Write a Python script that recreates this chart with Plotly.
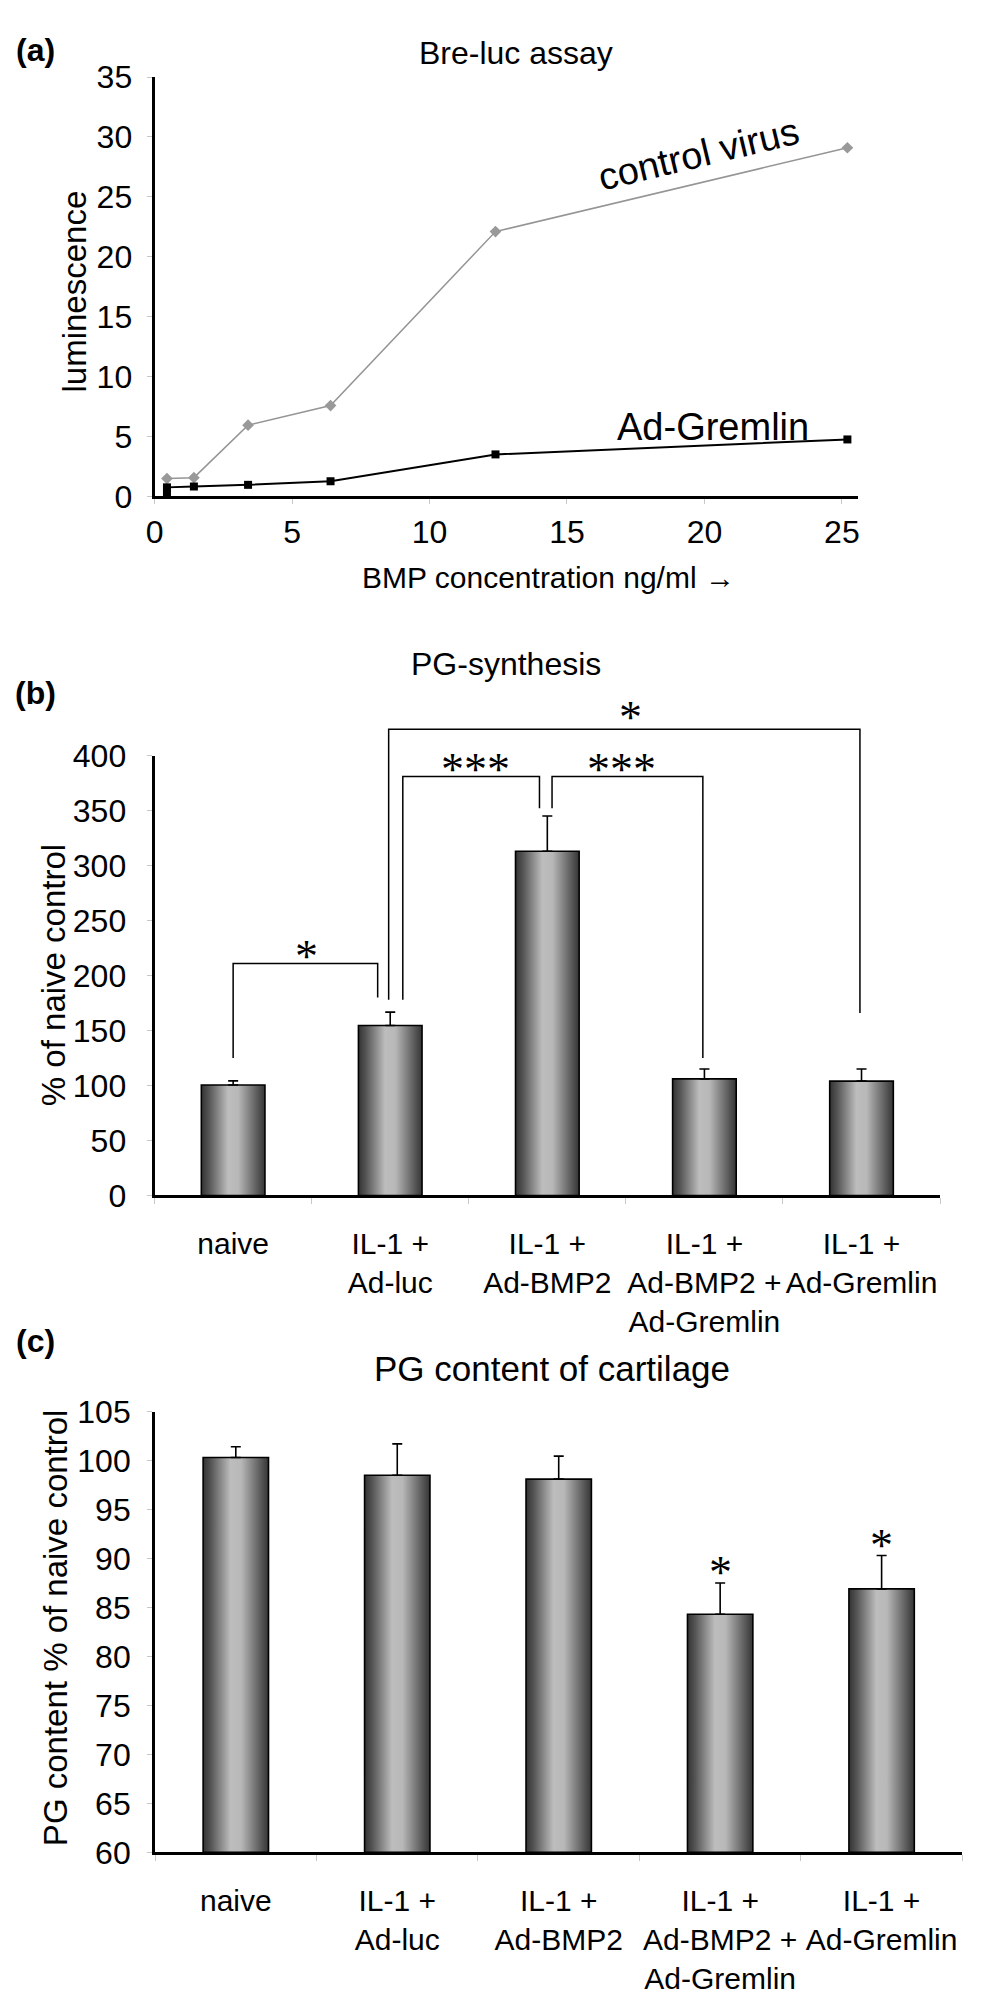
import plotly.graph_objects as go

W, H = 1004, 2008          # screen size
OFF = 8                    # default page (body) margin of the html page
FW, FH = W - 2 * OFF, H - 2 * OFF
FONT = "Liberation Sans, Arial, Helvetica, sans-serif"
STAR_FONT = "Liberation Serif, Times New Roman, serif"

# ---------------- data ----------------
# (a) Bre-luc assay
bmp_conc = [0.45, 1.43, 3.4, 6.4, 12.4, 25.2]
lum_control = [1.48, 1.56, 5.94, 7.58, 22.1, 29.1]
bmp_conc_grem = [0.45, 0.45, 1.43, 3.4, 6.4, 12.4, 25.2]
lum_gremlin = [0.2, 0.75, 0.82, 0.96, 1.26, 3.5, 4.75]
a_xticks = [0, 5, 10, 15, 20, 25]
a_yticks = [0, 5, 10, 15, 20, 25, 30, 35]

# (b)/(c) categories
categories = ["naive", "IL-1 +<br>Ad-luc", "IL-1 +<br>Ad-BMP2",
              "IL-1 +<br>Ad-BMP2 +<br>Ad-Gremlin", "IL-1 +<br>Ad-Gremlin"]
pg_synthesis = [100.5, 154.5, 313, 106, 104]
pg_synthesis_err = [3.7, 12.2, 32, 9, 11]
b_yticks = [0, 50, 100, 150, 200, 250, 300, 350, 400]
# significance brackets: x0, x1, top, left-leg bottom, right-leg bottom, label, label x, label y
b_brackets = [
    (0.0, 0.92, 211, 125, 180, "*", 0.47, 224),
    (1.08, 1.95, 381, 178, 352, "***", 1.54, 394),
    (2.03, 2.99, 381, 352, 125, "***", 2.47, 394),
    (0.99, 3.99, 424, 178, 166, "*", 2.53, 441),
]

pg_content = [100.3, 98.5, 98.1, 84.3, 86.9]
pg_content_err = [1.1, 3.2, 2.35, 3.2, 3.4]
c_yticks = [60, 65, 70, 75, 80, 85, 90, 95, 100, 105]
c_significant = [False, False, False, True, True]

# ---------------- layout geometry (screen pixels) ----------------
def dom_x(l, r):
    return [(l - OFF) / FW, (r - OFF) / FW]

def dom_y(bottom_px, top_px):
    return [1 - (bottom_px - OFF) / FH, 1 - (top_px - OFF) / FH]

A_X = dom_x(147, 858); A_Y = dom_y(487, 60); A_XR = [0, 25.6]; A_YR = [0, 35]
B_X = dom_x(147, 940.5); B_Y = dom_y(1199, 751); B_XR = [-0.5, 4.5]; B_YR = [0, 400]
C_X = dom_x(147.5, 963); C_Y = dom_y(1868, 1419); C_XR = [-0.5, 4.5]; C_YR = [60, 105]

def to_paper(v, dom, rng):
    return dom[0] + (v - rng[0]) / (rng[1] - rng[0]) * (dom[1] - dom[0])

fig = go.Figure()

# ---------------- (a) ----------------
fig.add_trace(go.Scatter(x=bmp_conc, y=lum_control, mode="lines+markers",
                         line=dict(color="#959595", width=1.5),
                         marker=dict(symbol="diamond", size=9, color="#999999"),
                         xaxis="x", yaxis="y", cliponaxis=False))
fig.add_trace(go.Scatter(x=bmp_conc_grem, y=lum_gremlin, mode="lines+markers",
                         line=dict(color="black", width=2),
                         marker=dict(symbol="square", size=8, color="black"),
                         xaxis="x", yaxis="y", cliponaxis=False))

# ---------------- bars with gradient ----------------
GRAD = [[0, "#333333"], [0.12, "#555555"], [0.42, "#bdbdbd"], [0.58, "#b8b8b8"],
        [0.88, "#5a5a5a"], [1, "#353535"]]
BAR_W = 0.405

def add_bars(values, errs, base, xa, ya):
    for i, v in enumerate(values):
        x0, x1 = i - BAR_W / 2, i + BAR_W / 2
        fig.add_trace(go.Scatter(x=[x0, x0, x1, x1, x0], y=[base, v, v, base, base],
                                 mode="lines", fill="toself",
                                 fillgradient=dict(type="horizontal", colorscale=GRAD),
                                 line=dict(color="black", width=1.6),
                                 xaxis=xa, yaxis=ya, hoverinfo="skip"))
    fig.add_trace(go.Scatter(x=list(range(len(values))), y=values, mode="markers",
                             marker=dict(size=1, opacity=0),
                             error_y=dict(type="data", symmetric=False, array=errs,
                                          arrayminus=[0] * len(errs), color="black",
                                          thickness=1.6, width=5),
                             xaxis=xa, yaxis=ya, hoverinfo="skip"))

add_bars(pg_synthesis, pg_synthesis_err, 0, "x2", "y2")
add_bars(pg_content, pg_content_err, C_YR[0], "x3", "y3")

shapes = []
annotations = []
STAR_SIZE = 46

def star(text, xp, yp, yshift):
    annotations.append(dict(x=xp, y=yp, xref="paper", yref="paper", text=text,
                            showarrow=False,
                            font=dict(family=STAR_FONT, size=STAR_SIZE, color="black"),
                            xanchor="center", yanchor="middle", yshift=yshift))

# (b) brackets and their stars
for x0, x1, top, lb, rb, lab, lx, ly in b_brackets:
    px0 = to_paper(x0, B_X, B_XR); px1 = to_paper(x1, B_X, B_XR)
    ptop = to_paper(top, B_Y, B_YR)
    path = "M {a},{b} L {a},{c} L {d},{c} L {d},{e}".format(
        a=px0, b=to_paper(lb, B_Y, B_YR), c=ptop, d=px1, e=to_paper(rb, B_Y, B_YR))
    shapes.append(dict(type="path", path=path, xref="paper", yref="paper",
                       line=dict(color="black", width=1.5)))
    star(lab, to_paper(lx, B_X, B_XR), to_paper(ly, B_Y, B_YR), -7)

# (c) stars above the error bars
for i, sig in enumerate(c_significant):
    if sig:
        star("*", to_paper(i, C_X, C_XR),
             to_paper(pg_content[i] + pg_content_err[i], C_Y, C_YR), 10)

# (a) series labels
annotations.append(dict(x=19.8, y=28.6, xref="x", yref="y", text="control virus",
                        textangle=-13.5, showarrow=False,
                        font=dict(family=FONT, size=38, color="black")))
annotations.append(dict(x=20.3, y=5.8, xref="x", yref="y", text="Ad-Gremlin",
                        showarrow=False, font=dict(family=FONT, size=38, color="black")))

def paper_text(text, xc, yc, size, angle=0, bold=False):
    annotations.append(dict(x=(xc - OFF) / FW, y=1 - (yc - OFF) / FH,
                            xref="paper", yref="paper",
                            text=("<b>%s</b>" % text) if bold else text,
                            textangle=angle, showarrow=False,
                            xanchor="center", yanchor="middle",
                            font=dict(family=FONT, size=size, color="black")))

# panel letters, titles, axis titles
paper_text("(a)", 27, 32, 32, bold=True)
paper_text("(b)", 27, 687, 32, bold=True)
paper_text("(c)", 27, 1347, 32, bold=True)
paper_text("Bre-luc assay", 512, 36, 32)
paper_text("PG-synthesis", 502, 658, 32)
paper_text("PG content of cartilage", 548, 1375, 35)
paper_text("luminescence", 66, 278, 33, angle=-90)
paper_text("BMP concentration ng/ml \u2192", 545, 570, 30)
paper_text("% of naive control", 45, 975, 33, angle=-90)
paper_text("PG content % of naive control", 47, 1639, 33, angle=-90)

axis_common = dict(showgrid=False, zeroline=False, showline=True, linecolor="black",
                   linewidth=3, tickfont=dict(family=FONT, size=32, color="black"),
                   ticks="outside", ticklen=5, tickcolor="#c8c8c8", tickwidth=1)

cat_axis = dict(showgrid=False, zeroline=False, showline=True, linecolor="black",
                linewidth=3, tickfont=dict(family=FONT, size=30, color="black"),
                tickmode="array", tickvals=list(range(len(categories))), ticktext=categories,
                ticks="", ticklabelstandoff=20,
                minor=dict(ticks="outside", ticklen=6, tickcolor="#c8c8c8", tickwidth=1,
                           tickmode="array", tickvals=[-0.5, 0.5, 1.5, 2.5, 3.5, 4.5]))

fig.update_layout(
    width=FW, height=FH, autosize=False,
    margin=dict(l=0, r=0, t=0, b=0),
    paper_bgcolor="white", plot_bgcolor="white",
    showlegend=False, hovermode=False,
    font=dict(family=FONT, color="black"),
    xaxis=dict(domain=A_X, range=A_XR, anchor="y", tickmode="array", tickvals=a_xticks,
               ticklabelstandoff=0, **axis_common),
    yaxis=dict(domain=A_Y, range=A_YR, anchor="x", tickmode="array", tickvals=a_yticks,
               ticklabelstandoff=8, **axis_common),
    xaxis2=dict(domain=B_X, range=B_XR, anchor="y2", **cat_axis),
    yaxis2=dict(domain=B_Y, range=B_YR, anchor="x2", tickmode="array", tickvals=b_yticks,
                ticklabelstandoff=14, **axis_common),
    xaxis3=dict(domain=C_X, range=C_XR, anchor="y3", **cat_axis),
    yaxis3=dict(domain=C_Y, range=C_YR, anchor="x3", tickmode="array", tickvals=c_yticks,
                ticklabelstandoff=10, **axis_common),
    shapes=shapes, annotations=annotations,
)

fig.write_html("out.html")
